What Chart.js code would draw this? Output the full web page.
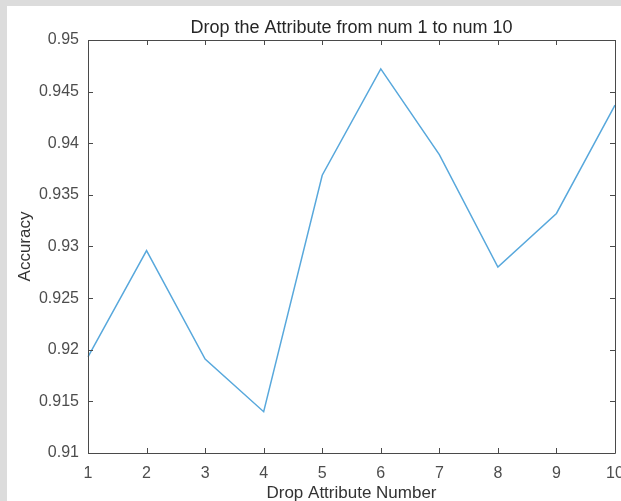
<!DOCTYPE html>
<html>
<head>
<meta charset="utf-8">
<script src="https://cdn.jsdelivr.net/npm/chart.js@4.4.0/dist/chart.umd.min.js"></script>
<style>
html,body{margin:0;padding:0;background:#dcdcdc;}
#wrap{position:absolute;left:0;top:0;width:621px;height:501px;}
</style>
</head>
<body>
<div id="wrap"><canvas id="c" width="621" height="501"></canvas></div>
<script>
const categories = ['1','2','3','4','5','6','7','8','9','10'];
const accuracy = [0.9193, 0.9296, 0.9191, 0.9140, 0.9369, 0.9472, 0.9389, 0.9280, 0.9332, 0.9437];
const yTicks = [0.91, 0.915, 0.92, 0.925, 0.93, 0.935, 0.94, 0.945, 0.95];
const chartTitle = 'Drop the Attribute from num 1 to num 10';
const xTitle = 'Drop Attribute Number';
const yTitle = 'Accuracy';

const FONT = '"Liberation Sans", Arial, sans-serif';
const AXIS_COLOR = '#4a4a4a';

const framePlugin = {
  id: 'frame',
  beforeDraw(chart) {
    const ctx = chart.ctx;
    ctx.save();
    ctx.fillStyle = '#dcdcdc';
    ctx.fillRect(0, 0, chart.width, chart.height);
    ctx.fillStyle = '#ffffff';
    ctx.fillRect(7, 6, chart.width - 7, chart.height - 6);
    ctx.restore();
  },
  afterDatasetsDraw(chart) {
    const ctx = chart.ctx;
    const a = chart.chartArea;
    const xs = chart.scales.x, ys = chart.scales.y;
    ctx.save();
    ctx.strokeStyle = AXIS_COLOR;
    ctx.lineWidth = 1;
    ctx.beginPath();
    ctx.rect(Math.round(a.left) + 0.5, Math.round(a.top) + 0.5,
             Math.round(a.right - a.left), Math.round(a.bottom - a.top));
    const L = 5;
    xs.ticks.forEach((t, i) => {
      const px = Math.round(xs.getPixelForTick(i)) + 0.5;
      ctx.moveTo(px, a.bottom); ctx.lineTo(px, a.bottom - L);
      ctx.moveTo(px, a.top); ctx.lineTo(px, a.top + L);
    });
    ys.ticks.forEach((t) => {
      const py = Math.round(ys.getPixelForValue(t.value)) + 0.5;
      ctx.moveTo(a.left, py); ctx.lineTo(a.left + L, py);
      ctx.moveTo(a.right, py); ctx.lineTo(a.right - L, py);
    });
    ctx.stroke();
    // title
    ctx.fillStyle = '#262626';
    ctx.font = '18px ' + FONT;
    ctx.textAlign = 'center';
    ctx.textBaseline = 'alphabetic';
    ctx.fillText(chartTitle, (a.left + a.right) / 2, 33);
    ctx.restore();
  }
};

new Chart(document.getElementById('c'), {
  type: 'line',
  data: {
    labels: categories,
    datasets: [{
      data: accuracy,
      borderColor: '#58a8dc',
      borderWidth: 1.5,
      pointRadius: 0,
      tension: 0,
      fill: false
    }]
  },
  options: {
    responsive: false,
    animation: false,
    devicePixelRatio: 1,
    layout: { padding: { left: 0, right: 6, top: 40, bottom: 0 } },
    plugins: { legend: { display: false }, tooltip: { enabled: false }, title: { display: false } },
    scales: {
      x: {
        type: 'category',
        offset: false,
        grid: { display: false, drawTicks: false },
        border: { display: false },
        ticks: { color: '#4d4d4d', font: { family: FONT, size: 16 }, padding: 11, maxRotation: 0, autoSkip: false },
        title: { display: true, text: xTitle, color: '#333', font: { family: FONT, size: 17 }, padding: { top: 0, bottom: -3 } },
        afterFit(s) { s.height = 48; s.paddingLeft = 0; s.paddingRight = 0; }
      },
      y: {
        min: 0.91,
        max: 0.95,
        grid: { display: false, drawTicks: false },
        border: { display: false },
        afterBuildTicks(s) { s.ticks = yTicks.map(v => ({ value: v })); },
        ticks: {
          color: '#4d4d4d',
          font: { family: FONT, size: 16 },
          padding: 9,
          callback: (v) => String(Number(v.toFixed(3)))
        },
        title: { display: true, text: yTitle, color: '#333', font: { family: FONT, size: 17 }, padding: { top: 15, bottom: 0 } },
        afterFit(s) { s.width = 88; s.paddingTop = 0; s.paddingBottom = 0; }
      }
    }
  },
  plugins: [framePlugin]
});
</script>
</body>
</html>
